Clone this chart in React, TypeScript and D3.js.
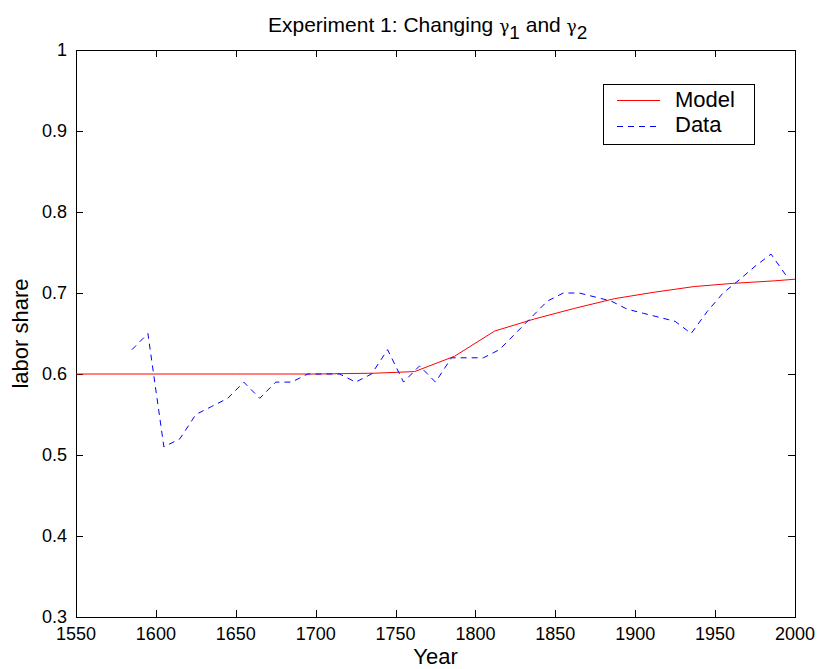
import React, { useEffect, useRef } from 'react';
import * as d3 from 'd3';

const dataYears = [1585, 1595, 1605, 1615, 1625, 1635, 1645, 1655, 1665, 1675, 1685, 1695, 1705, 1715, 1725, 1735, 1745, 1755, 1765, 1775, 1785, 1795, 1805, 1815, 1825, 1835, 1845, 1855, 1865, 1875, 1885, 1895, 1905, 1915, 1925, 1935, 1945, 1955, 1965, 1975, 1985, 1995];
const dataShare = [0.63, 0.65, 0.51, 0.52, 0.55, 0.56, 0.57, 0.59, 0.57, 0.59, 0.59, 0.60, 0.60, 0.60, 0.59, 0.60, 0.63, 0.59, 0.61, 0.59, 0.62, 0.62, 0.62, 0.63, 0.65, 0.67, 0.69, 0.70, 0.70, 0.695, 0.69, 0.68, 0.675, 0.67, 0.665, 0.65, 0.677, 0.70, 0.716, 0.733, 0.748, 0.72];

const modelYears = [1550, 1600, 1650, 1700, 1737, 1762, 1787, 1812, 1837, 1862, 1887, 1912, 1937, 1962, 1987, 2000];
const modelShare = [0.60, 0.60, 0.60, 0.60, 0.601, 0.603, 0.622, 0.653, 0.668, 0.681, 0.693, 0.701, 0.708, 0.712, 0.715, 0.717];

const xTicks = [1550, 1600, 1650, 1700, 1750, 1800, 1850, 1900, 1950, 2000];
const yTicks = [0.3, 0.4, 0.5, 0.6, 0.7, 0.8, 0.9, 1];

const FONT = '"Liberation Sans", Arial, Helvetica, sans-serif';

const Chart: React.FC = () => {
    const svgRef = useRef<SVGSVGElement>(null);

    useEffect(() => {
        if (!svgRef.current) return;
        const svg = d3.select(svgRef.current);
        svg.selectAll('*').remove();

        const left = 76, right = 795, top = 50, bottom = 617;
        const x = d3.scaleLinear().domain([1550, 2000]).range([left, right]);
        const y = d3.scaleLinear().domain([0.3, 1]).range([bottom, top]);

        svg.append('rect').attr('width', 819).attr('height', 669).attr('fill', 'white');

        // ticks on all four sides, pointing in
        const tl = 7;
        const g = svg.append('g').attr('stroke', 'black').attr('stroke-width', 1);
        xTicks.forEach(t => {
            const px = Math.round(x(t)) + 0.5;
            g.append('line').attr('x1', px).attr('x2', px).attr('y1', bottom).attr('y2', bottom - tl);
            g.append('line').attr('x1', px).attr('x2', px).attr('y1', top).attr('y2', top + tl);
        });
        yTicks.forEach(t => {
            const py = Math.round(y(t)) + 0.5;
            g.append('line').attr('x1', left).attr('x2', left + tl).attr('y1', py).attr('y2', py);
            g.append('line').attr('x1', right).attr('x2', right - tl).attr('y1', py).attr('y2', py);
        });
        svg.append('rect')
            .attr('x', left + 0.5).attr('y', top + 0.5)
            .attr('width', right - left).attr('height', bottom - top)
            .attr('fill', 'none').attr('stroke', 'black').attr('stroke-width', 1);

        // tick labels
        svg.append('g').selectAll('text').data(xTicks).join('text')
            .attr('x', d => x(d)).attr('y', 640)
            .attr('text-anchor', 'middle')
            .attr('font-family', FONT).attr('font-size', 18)
            .text(d => String(d));
        svg.append('g').selectAll('text').data(yTicks).join('text')
            .attr('x', 67).attr('y', d => y(d) + 6)
            .attr('text-anchor', 'end')
            .attr('font-family', FONT).attr('font-size', 18)
            .text(d => String(d));

        // axis labels
        svg.append('text').attr('x', (left + right) / 2).attr('y', 664)
            .attr('text-anchor', 'middle').attr('font-family', FONT).attr('font-size', 22)
            .text('Year');
        svg.append('text')
            .attr('transform', `translate(28, ${(top + bottom) / 2}) rotate(-90)`)
            .attr('text-anchor', 'middle').attr('font-family', FONT).attr('font-size', 22)
            .text('labor share');

        // title
        const title = svg.append('text').attr('x', 268).attr('y', 32)
            .attr('font-family', FONT).attr('font-size', 21);
        title.append('tspan').text('Experiment 1: Changing ');
        title.append('tspan').attr('font-family', '"DejaVu Serif", serif').attr('font-size', 17).attr('dy', 0).text('γ');
        title.append('tspan').attr('dy', 7).attr('font-size', 19).text('1');
        title.append('tspan').attr('dy', -7).text(' and ');
        title.append('tspan').attr('font-family', '"DejaVu Serif", serif').attr('font-size', 17).text('γ');
        title.append('tspan').attr('dy', 7).attr('font-size', 19).text('2');

        const line = d3.line<[number, number]>()
            .x(d => x(d[0]))
            .y(d => y(d[1]));

        const model: [number, number][] = modelYears.map((yr, i) => [yr, modelShare[i]]);
        const data: [number, number][] = dataYears.map((yr, i) => [yr, dataShare[i]]);

        svg.append('path').datum(model).attr('d', line)
            .attr('fill', 'none').attr('stroke', '#ff0000').attr('stroke-width', 1);
        svg.append('path').datum(data).attr('d', line)
            .attr('fill', 'none').attr('stroke', '#0000ff').attr('stroke-width', 1)
            .attr('stroke-dasharray', '6,5');

        // legend
        const lg = svg.append('g');
        lg.append('rect').attr('x', 603.5).attr('y', 84.5).attr('width', 151).attr('height', 60)
            .attr('fill', 'white').attr('stroke', 'black').attr('stroke-width', 1);
        lg.append('line').attr('x1', 617).attr('x2', 660).attr('y1', 100.5).attr('y2', 100.5)
            .attr('stroke', '#ff0000');
        lg.append('line').attr('x1', 617).attr('x2', 660).attr('y1', 126.5).attr('y2', 126.5)
            .attr('stroke', '#0000ff').attr('stroke-dasharray', '6,5');
        lg.append('text').attr('x', 675).attr('y', 107).attr('font-family', FONT).attr('font-size', 22).text('Model');
        lg.append('text').attr('x', 675).attr('y', 132).attr('font-family', FONT).attr('font-size', 22).text('Data');
    }, []);

    return <svg ref={svgRef} width={819} height={669} style={{ position: 'absolute', left: 0, top: 0 }} />;
};

const App: React.FC = () => <Chart />;

export default App;
